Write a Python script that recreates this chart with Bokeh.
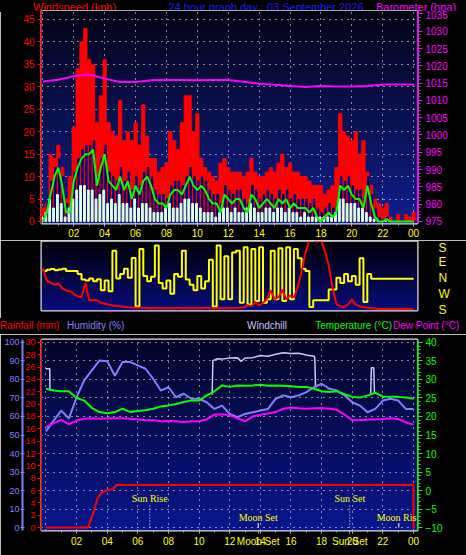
import numpy as np
from bokeh.plotting import figure
from bokeh.layouts import column
from bokeh.models import Range1d, LinearAxis, FixedTicker, SingleIntervalTicker, ColumnDataSource, Div
from bokeh.transform import dodge
from bokeh.embed import file_html
from bokeh.resources import INLINE
from bokeh.core.properties import value

# ---------------- data ----------------
title_main = "24 hour graph day : 03 September 2026"
hour_ticks = [2, 4, 6, 8, 10, 12, 14, 16, 18, 20, 22, 24]
hour_labels = ["02", "04", "06", "08", "10", "12", "14", "16", "18", "20", "22", "00"]

# 15-minute samples, 00:00 .. 24:00
wind_hours = [i * 0.25 for i in range(97)]
wind_gust = [3, 4, 15, 14, 17, 12, 5, 10, 21, 34, 40, 43, 36, 35, 22, 28,
             36, 22, 20, 19, 27, 18, 20, 18, 22, 17, 26, 19, 14, 14, 11, 12,
             13, 20, 18, 16, 22, 28, 28, 20, 24, 14, 12, 11, 10, 9, 13, 14,
             12, 11, 11, 11, 10, 11, 14, 11, 10, 10, 11, 12, 11, 13, 15, 12,
             13, 11, 11, 10, 10, 9, 8, 8, 8, 6, 7, 8, 12, 24, 20, 19,
             18, 20, 15, 18, 11, 8, 5, 4, 3, 4, 1, 0, 1.5, 0, 1.5, 1, 2]
wind_high = [1, 4, 9, 12, 14, 10, 4, 4, 11, 14, 16, 17, 17, 18, 10, 14,
             17, 11, 10, 9, 12, 9, 11, 7, 10, 8, 11, 12, 10, 7, 6, 6,
             5, 8, 9, 9, 8, 10, 12, 10, 9, 10, 9, 7, 6, 6, 4, 8,
             7, 6, 7, 7, 5, 4, 8, 7, 5, 6, 7, 6, 5, 7, 6, 7,
             5, 6, 5, 5, 5, 4, 5, 3, 2, 3, 4, 3, 4, 10, 9, 10,
             8, 7, 7, 5, 10, 6, 3, 1, 0.5, 1, 0, 0, 0, 0, 0, 0, 0]
wind_low = [1, 2, 5, 3, 6, 4, 1, 3, 5, 7, 8, 8, 7, 7, 5, 6,
            7, 4, 5, 4, 6, 4, 4, 3, 5, 3, 4, 4, 3, 2, 2, 2,
            3, 4, 3, 3, 4, 5, 5, 4, 4, 3, 2, 2, 2, 1, 2, 3,
            3, 2, 3, 2, 2, 3, 4, 3, 2, 2, 3, 3, 2, 3, 3, 2,
            3, 2, 2, 1, 2, 1, 1, 1, 1, 1, 1, 1, 2, 5, 5, 4,
            4, 4, 3, 3, 2, 1, 0.5, 0.3, 0, 0, 0, 0, 0, 0, 0, 0, 0]
wind_avg = [0, 2, 6, 10, 12, 8, 2, 2, 9, 12, 14, 15, 15, 16, 8, 12,
            15, 9, 8, 7, 10, 7, 9, 5, 8, 6, 9, 10, 8, 5, 4, 4,
            3, 6, 7, 7, 6, 8, 10, 8, 7, 8, 7, 5, 4, 4, 2, 6,
            5, 4, 5, 5, 3, 2, 6, 5, 3, 4, 5, 4, 3, 5, 4, 5,
            3, 4, 3, 3, 3, 2, 3, 1, 0, 1, 2, 1, 2, 8, 7, 8,
            6, 5, 5, 3, 8, 4, 1, 0, 0, 0.5, 0, 0, 0, 0, 0, 0, 0]
baro_hours = list(range(25))
baro_hpa = [1015.5, 1016.0, 1017.0, 1017.5, 1016.3, 1015.3, 1015.3, 1015.8, 1015.9,
            1015.9, 1015.8, 1015.9, 1015.9, 1015.4, 1014.8, 1014.5, 1014.2, 1013.9,
            1014.2, 1014.0, 1014.0, 1014.2, 1014.6, 1014.6, 1014.6]

# wind direction panel: positions on the S-W-N-E-S scale (0 = S bottom, 180 = N, 360 = S top)
wind_dir_pos = [218, 224, 228, 222, 226, 230, 218, 218, 218, 200, 170, 165, 175, 160, 172, 110,
                165, 105, 330, 175, 200, 230, 180, 290, 20, 340, 190, 160, 185, 360, 150, 120,
                165, 90, 200, 185, 330, 170, 140, 110, 190, 120, 160, 280, 20, 360, 60, 300,
                60, 320, 330, 40, 350, 30, 340, 50, 350, 40, 60, 330, 60, 345, 50, 350,
                60, 340, 289, 230, 218, 16, 54, 54, 54, 54, 114, 114, 180, 150, 200, 160,
                190, 140, 289, 44, 200, 174, 174, 174, 174, 174, 174, 174, 174, 174, 174, 174, 174]
dir_red = [234, 163, 152, 140, 150, 120, 109, 105, 90, 75, 71, 150, 54, 54, 54, 40,
           35, 30, 25, 22, 20, 18, 15, 14, 12, 12, 12, 10, 10, 10, 10, 10,
           10, 10, 10, 12, 10, 10, 10, 10, 10, 10, 12, 10, 10, 10, 10, 10,
           10, 10, 10, 12, 15, 27, 20, 44, 25, 40, 60, 109, 60, 70, 114, 60,
           80, 70, 125, 218, 320, 390, 390, 380, 390, 330, 251, 125, 33, 20, 16, 30,
           60, 30, 20, 16, 12, 10, 8, 6, 5, 5, 5, 5, 5, 5, 5, 5, 5]

# 30-minute samples, 00:00 .. 24:00
clim_hours = [i * 0.5 for i in range(49)]
humidity = [52, 57.8, 63.2, 58.9, 70.4, 79.5, 84.9, 90.3, 89.9, 82.0, 89.4, 89.4, 87.6,
            85.8, 80.4, 74.0, 75.8, 70.4, 72.3, 69.6, 69.6, 67.7, 64.1, 65.9, 61.4, 59.6,
            61.4, 62.3, 63.2, 64.1, 69.6, 71.4, 70.4, 71.4, 73.2, 75.8, 77.7, 75.0, 74.0,
            71.4, 67.7, 65.9, 62.3, 64.1, 68.6, 69.6, 68.6, 64.1, 64.1]
temperature = [27.5, 27.0, 26.8, 26.8, 25.0, 24.3, 22.3, 21.2, 20.9, 21.2, 22.1, 21.2, 21.5,
               21.7, 22.1, 22.7, 23.0, 23.4, 23.9, 24.3, 24.3, 25.7, 26.8, 28.4, 28.0, 28.4,
               28.3, 28.4, 28.6, 28.3, 28.4, 28.3, 28.2, 28.0, 28.0, 27.5, 26.8, 26.6, 26.8,
               26.0, 25.3, 25.1, 25.7, 26.4, 25.4, 25.3, 25.3, 25.1, 24.8]
dew_point = [17.1, 18.2, 19.1, 17.9, 18.9, 19.4, 19.5, 19.4, 19.5, 19.5, 19.5, 19.4, 19.2,
             19.0, 19.0, 18.7, 18.8, 18.7, 18.5, 18.7, 18.7, 19.2, 20.5, 20.6, 20.3, 19.5,
             18.7, 20.0, 20.5, 20.8, 21.2, 22.1, 22.4, 22.2, 22.1, 22.2, 22.3, 22.1, 21.8,
             20.5, 19.0, 19.0, 19.2, 19.2, 19.3, 19.5, 19.3, 18.4, 17.8]
nan = float("nan")
windchill_hours = [0.0, 0.25, 0.26, 0.5, nan, 10.85, 10.9, 11.2, 11.5, 12.0, 12.5, 12.75, 13.0,
                   13.5, 14.0, 14.5, 15.0, 15.5, 16.0, 16.5, 17.0, 17.5, 17.55, 17.6, nan,
                   21.2, 21.25, 21.4, 21.45]
windchill = [32.9, 32.9, 27.3, 27.0, nan, 25.9, 35.1, 35.6, 35.5, 35.8, 35.9, 34.9, 35.8,
             35.9, 36.5, 36.3, 36.8, 37.2, 37.0, 37.1, 36.6, 36.3, 36.0, 28.0, nan,
             25.8, 33.2, 33.2, 26.2]
rain_hours = [0.0, 2.74, 2.87, 3.02, 3.17, 3.35, 3.48, 3.67, 4.0, 4.33, 4.48, 4.61, 24.0, 24.0, 24.1]
rain_mm = [0.0, 0.0, 0.8, 1.9, 3.0, 4.6, 5.1, 5.7, 6.05, 6.2, 6.5, 6.9, 6.9, 0.0, 0.0]
event_names = ["Sun Rise", "Moon Set", "Sun Set", "Moon Rise"]
event_hours = [6.78, 13.86, 19.84, 23.04]

top_titles = ["Windspeed (kph)", title_main, "Barometer (hpa)"]
bottom_titles = ["Rainfall (mm)", "Humidity (%)", "Windchill", "Temperature (\u00b0C)", "Dew Point (\u00b0C)"]

# ---------------- style ----------------
W = 466
BL, BR = 41, 49          # shared left / right borders, so all frames line up
FONT = "Liberation Sans"
RED, MAG, GRN, YEL = "#ff0000", "#ff00ff", "#00ff00", "#ffff00"
HUM, WCH, BLUE = "#8080ff", "#c8c8ff", "#1a1aff"
FRAME = "#e0e0e0"


def gradient(top, bottom, n=128):
    img = np.empty((n, 1), dtype=np.uint32)
    v = img.view(dtype=np.uint8).reshape((n, 1, 4))
    t = np.linspace(0.0, 1.0, n)
    for k in range(3):
        v[:, 0, k] = np.round(bottom[k] + (top[k] - bottom[k]) * t).astype(np.uint8)
    v[:, 0, 3] = 255
    return img


def add_bg(p, top, bottom):
    xr, yr = p.x_range, p.y_range
    p.image_rgba(image=[gradient(top, bottom)], x=xr.start, y=yr.start,
                 dw=xr.end - xr.start, dh=yr.end - yr.start, level="image")


def base_fig(height, xr, yr, mbt, mbb, **kw):
    return figure(width=W, height=height, x_range=xr, y_range=yr,
                  output_backend="svg", toolbar_location=None,
                  min_border_left=BL, min_border_right=BR,
                  min_border_top=mbt, min_border_bottom=mbb,
                  border_fill_color="black", background_fill_color="black",
                  outline_line_color=FRAME, outline_line_width=2, **kw)


def title_div(height, items, size):
    spans = "".join(
        f'<span style="position:absolute;top:0;{pos};color:{c}">{txt}</span>'
        for txt, c, pos in items)
    html = (f'<div style="position:relative;width:{W}px;height:{height}px;'
            f'font-family:\'{FONT}\';font-size:{size};line-height:{height}px;'
            f'white-space:nowrap;background:#000;">{spans}</div>')
    return Div(text=html, width=W, height=height, margin=0,
               styles={"background-color": "black", "overflow": "visible"})


def style_x(ax, extra_ticks=(), extra_labels=()):
    ax.ticker = FixedTicker(ticks=hour_ticks + list(extra_ticks), minor_ticks=list(range(1, 25)))
    ov = dict(zip(hour_ticks, hour_labels))
    ov.update(dict(zip(extra_ticks, extra_labels)))
    ax.major_label_overrides = ov
    ax.major_label_text_color = YEL
    ax.major_label_text_font = FONT
    ax.major_label_text_font_size = "10px"
    ax.axis_line_color = None
    ax.major_tick_line_color = "#b0b0b0"
    ax.minor_tick_line_color = "#b0b0b0"
    ax.major_tick_out, ax.major_tick_in = 3, 0
    ax.minor_tick_out, ax.minor_tick_in = 2, 0
    ax.major_label_standoff = 2


def style_y(ax, color, tick_out=4, minor_out=2, standoff=3, line_width=1, tick_in=0, size="10px"):
    ax.axis_line_color = color
    ax.axis_line_width = line_width
    ax.major_tick_line_color = color
    ax.minor_tick_line_color = color
    ax.major_label_text_color = color
    ax.major_label_text_font = FONT
    ax.major_label_text_font_size = size
    ax.major_tick_out, ax.major_tick_in = tick_out, tick_in
    ax.minor_tick_out, ax.minor_tick_in = minor_out, 0
    ax.major_label_standoff = standoff


def style_grid(g):
    g.grid_line_color = "white"
    g.grid_line_dash = "1 5"
    g.grid_line_width = 1


# ---------------- top titles ----------------
t1 = title_div(10, [
    (top_titles[0], RED, "left:33px"),
    (top_titles[1], BLUE, "left:266px;transform:translateX(-50%)"),
    (top_titles[2], MAG, "left:416px;transform:translateX(-50%)"),
], "11px")

# ---------------- top panel: wind & barometer ----------------
p1 = base_fig(230, Range1d(-0.09, 24.25), Range1d(-0.45, 47.0), 0, 17)
p1.extra_y_ranges = {"baro": Range1d(974.4, 1036.0)}
add_bg(p1, (3, 3, 22), (16, 30, 140))

p1.yaxis.ticker = SingleIntervalTicker(interval=5, num_minor_ticks=5)
style_y(p1.yaxis[0], RED)
baro_axis = LinearAxis(y_range_name="baro",
                       ticker=SingleIntervalTicker(interval=5, num_minor_ticks=5))
style_y(baro_axis, MAG, tick_out=5, minor_out=3)
p1.add_layout(baro_axis, "right")
style_x(p1.xaxis[0])
p1.xgrid.ticker = FixedTicker(ticks=list(range(0, 25, 2)))
p1.ygrid.ticker = SingleIntervalTicker(interval=5)
style_grid(p1.xgrid[0])
style_grid(p1.ygrid[0])

wind_src = ColumnDataSource(dict(h=wind_hours, gust=wind_gust, high=wind_high, low=wind_low))
p1.vbar(x="h", top="gust", bottom=0, width=0.21, color=RED, source=wind_src)
p1.vbar(x=dodge("h", 0.06, range=p1.x_range), top="high", bottom=0, width=0.1,
        color="#000070", source=wind_src)
p1.vbar(x=dodge("h", -0.06, range=p1.x_range), top="low", bottom=0, width=0.12,
        color="#e0ffe0", source=wind_src)
p1.line(x=wind_hours, y=wind_avg, color=GRN, line_width=2)
p1.line(x=baro_hours, y=baro_hpa, color=MAG, line_width=2, y_range_name="baro")

# ---------------- middle panel: wind direction ----------------
p2 = base_fig(78, Range1d(-0.09, 24.25), Range1d(-3, 382), 1, 8,
              x_axis_location=None, y_axis_location="right")
add_bg(p2, (0, 0, 6), (6, 12, 122))
p2.grid.visible = False
ax2 = p2.yaxis[0]
ax2.ticker = FixedTicker(ticks=[0, 90, 180, 270, 360])
ax2.major_label_overrides = {0: "S", 90: "W", 180: "N", 270: "E", 360: "S"}
ax2.major_label_text_color = YEL
ax2.major_label_text_font = FONT
ax2.major_label_text_font_size = "12px"
ax2.major_label_standoff = 15
ax2.axis_line_color = None
ax2.major_tick_line_color = None
ax2.minor_tick_line_color = None

p2.step(x=wind_hours, y=wind_dir_pos, mode="after", color=YEL, line_width=2)
p2.line(x=wind_hours, y=dir_red, color=RED, line_width=2)

# ---------------- bottom titles ----------------
t2 = title_div(16, [
    (bottom_titles[0], RED, "left:0px"),
    (bottom_titles[1], HUM, "left:67px"),
    (bottom_titles[2], WCH, "left:267px;transform:translateX(-50%)"),
    (bottom_titles[3], GRN, "right:74px"),
    (bottom_titles[4], MAG, "left:393px"),
], "10px")

# ---------------- bottom panel: climate ----------------
p3 = base_fig(221, Range1d(-0.29, 24.26), Range1d(-1.6, 101.6), 5, 25,
              y_axis_location=None)
p3.extra_y_ranges = {"rain": Range1d(-0.48, 30.48), "temp": Range1d(-10.8, 40.8)}
add_bg(p3, (4, 4, 40), (8, 22, 140))

rain_axis = LinearAxis(y_range_name="rain",
                       ticker=SingleIntervalTicker(interval=2, num_minor_ticks=2))
style_y(rain_axis, RED, tick_out=4, minor_out=2, standoff=2, size="9px")
hum_axis = LinearAxis(ticker=SingleIntervalTicker(interval=10, num_minor_ticks=0))
style_y(hum_axis, HUM, tick_out=2, standoff=1, line_width=2, tick_in=2, size="9px")
temp_axis = LinearAxis(y_range_name="temp",
                       ticker=SingleIntervalTicker(interval=5, num_minor_ticks=5))
style_y(temp_axis, GRN, tick_out=5, minor_out=3)
p3.add_layout(rain_axis, "left")
p3.add_layout(hum_axis, "left")
p3.add_layout(temp_axis, "right")
axis_events = [(n, h) for n, h in zip(event_names, event_hours) if n in ("Moon Set", "Sun Set")]
style_x(p3.xaxis[0], [h for n, h in axis_events], [n for n, h in axis_events])
p3.xgrid.ticker = FixedTicker(ticks=list(range(0, 25, 2)))
p3.ygrid.ticker = SingleIntervalTicker(interval=10)
style_grid(p3.xgrid[0])
style_grid(p3.ygrid[0])

p3.line(x=rain_hours, y=rain_mm, color=RED, line_width=2, y_range_name="rain")
p3.line(x=windchill_hours, y=windchill, color=WCH, line_width=1.5, y_range_name="temp")
p3.line(x=clim_hours, y=humidity, color=HUM, line_width=2)
p3.line(x=clim_hours, y=temperature, color=GRN, line_width=2, y_range_name="temp")
p3.line(x=clim_hours, y=dew_point, color=MAG, line_width=2, y_range_name="temp")

sun_h = [h for n, h in zip(event_names, event_hours) if n.startswith("Sun")]
moon_h = [h for n, h in zip(event_names, event_hours) if n.startswith("Moon")]
sun_names = [n for n in event_names if n.startswith("Sun")]
moon_names = [n for n in event_names if n.startswith("Moon")]
p3.segment(x0=sun_h, y0=0, x1=sun_h, y1=12.4, color="white", line_dash="1 2", line_width=1)
p3.segment(x0=moon_h, y0=0, x1=moon_h, y1=2.4, color="white", line_width=1)
p3.text(x=sun_h, y=15.7, text=sun_names, text_color=YEL, text_font=value("Liberation Serif"),
        text_font_size="10px", text_align="center", text_baseline="middle")
p3.text(x=moon_h, y=5.4, text=moon_names, text_color=YEL, text_font=value("Liberation Serif"),
        text_font_size="10px", text_align="center", text_baseline="middle")

layout = column(t1, p1, p2, t2, p3, spacing=0)
open("out.html", "w").write(file_html(layout, INLINE))
